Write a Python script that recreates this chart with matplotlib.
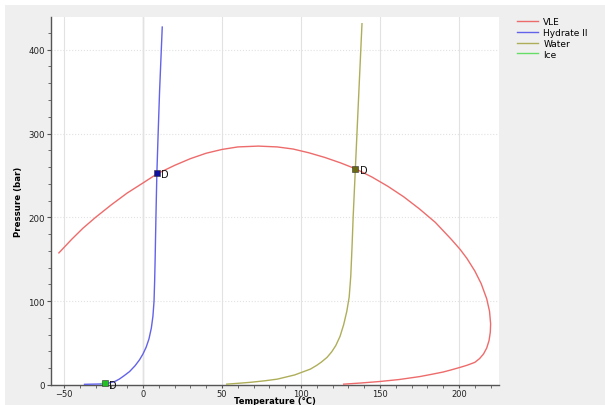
import matplotlib
matplotlib.use("Agg")
import matplotlib.pyplot as plt
from matplotlib.patches import Rectangle
from matplotlib.ticker import MultipleLocator

# VLE envelope (T in °C, P in bar)
vle_T = [-53.2, -45, -38, -30, -20, -10, 0, 9, 20, 30, 40, 50, 60, 73, 85, 95, 105,
         115, 125, 134.4, 145, 155, 165, 175, 185, 195, 200.6, 205, 210, 214, 217.5,
         219.3, 220, 219.8, 219, 217.5, 215.5, 213, 210, 205, 200.6, 195, 190, 182,
         175, 162, 150, 138, 127]
vle_P = [157.6, 174, 187, 200, 215, 229, 241, 252, 262, 270, 276.5, 281, 284, 285,
         284, 281.5, 277, 271.5, 265, 258, 248, 237, 224.5, 210, 194, 174, 162, 151,
         136, 121, 103, 88, 73, 63, 53, 44, 37, 31.5, 27, 23.5, 21, 18, 15.5, 12.5,
         10, 6.5, 4.2, 2.4, 1]

# Hydrate II curve
hyd_T = [-37, -27, -22, -18, -15, -12, -8.5, -5, -2.2, 0, 2.0, 3.8, 5.3, 6.3, 7.0,
         7.4, 7.7, 8.2, 8.8, 9.6, 10.5, 12.2]
hyd_P = [0.8, 1.2, 2.2, 4, 7, 11, 16, 23, 30, 37, 45, 55, 68, 82, 100, 125, 150, 200,
         253, 300, 350, 427]

# Water curve
wat_T = [53, 60, 68, 77, 85, 96, 106, 110, 113, 116.5, 119.4, 122, 124.7, 127, 129,
         130.5, 131.5, 132.3, 133, 134.4, 136.5, 138.6]
wat_P = [1, 2, 3.2, 5, 7, 12, 19, 23.5, 27.5, 33, 39.5, 47, 58, 72, 88, 105, 130, 165,
         200, 258, 345, 431]

# Ice curve
ice_T = [-26, -24]
ice_P = [1.8, 2.0]

# Points marked "D"
pts_T = [8.8, 134.4, -24]
pts_P = [253, 258, 2]
pts_col = ["#1010a0", "#6a6a10", "#22c022"]

fig = plt.figure(figsize=(6.05, 4.06), dpi=100)
fig.patch.set_facecolor("white")
bg = Rectangle((5/605, 0), 1, 400/406, transform=fig.transFigure,
               facecolor="#efefef", edgecolor="none", zorder=-10)
fig.add_artist(bg)

ax = fig.add_axes([51/605, 20/406, 448/605, 368/406])
ax.set_zorder(1)
ax.set_facecolor("white")

ax.plot(vle_T, vle_P, color="#ee6b6b", lw=1.0, label="VLE", zorder=3)
ax.plot(hyd_T, hyd_P, color="#6262ea", lw=1.0, label="Hydrate II", zorder=3)
ax.plot(wat_T, wat_P, color="#aeae5a", lw=1.0, label="Water", zorder=3)
ax.plot(ice_T, ice_P, color="#66dd66", lw=1.0, label="Ice", zorder=3)

for t, p, c in zip(pts_T, pts_P, pts_col):
    ax.plot([t], [p], marker="s", ms=4, color=c, mec="#333333", mew=0.4, zorder=5,
            clip_on=False)
    ax.annotate("D", (t, p), xytext=(3, -1), textcoords="offset points",
                fontsize=7, va="center", ha="left", color="#111111", zorder=6)

ax.set_xlim(-58.2, 225.3)
ax.set_ylim(0, 439)
ax.xaxis.set_major_locator(MultipleLocator(50))
ax.xaxis.set_minor_locator(MultipleLocator(10))
ax.yaxis.set_major_locator(MultipleLocator(100))
ax.yaxis.set_minor_locator(MultipleLocator(20))

ax.grid(True, axis="x", which="major", color="#e2e2e2", lw=0.8, ls="-", zorder=0)
ax.grid(True, axis="y", which="major", color="#e2e2e2", lw=0.8, ls=":", zorder=0)
ax.axvline(0, color="#d4d4d4", lw=1.0, zorder=1)

for s in ["top", "right"]:
    ax.spines[s].set_visible(False)
for s in ["left", "bottom"]:
    ax.spines[s].set_color("#555555")
    ax.spines[s].set_linewidth(1.0)

ax.tick_params(axis="y", which="major", labelsize=6.2, colors="#555555",
               labelcolor="#222222", length=3, width=0.8, direction="out", pad=1.5)
ax.tick_params(axis="x", which="major", labelsize=6.0, colors="#555555",
               labelcolor="#222222", length=2, width=0.8, direction="out", pad=0.8)
ax.tick_params(axis="both", which="minor", colors="#555555", length=2, width=0.6,
               direction="out")

ax.set_xlabel("Temperature (°C)", fontsize=6.0, fontweight="bold", va="top")
ax.xaxis.set_label_coords(0.5, -0.031)
ax.set_ylabel("Pressure (bar)", fontsize=6.2, fontweight="bold", labelpad=3.5)

leg = fig.legend(loc="upper left", bbox_to_anchor=(509/605, 1 - 10/406),
                 frameon=False, fontsize=6.5, handlelength=2.3, handletextpad=0.6,
                 labelspacing=0.2)

fig.savefig("out.png", dpi=100, facecolor=fig.get_facecolor())
